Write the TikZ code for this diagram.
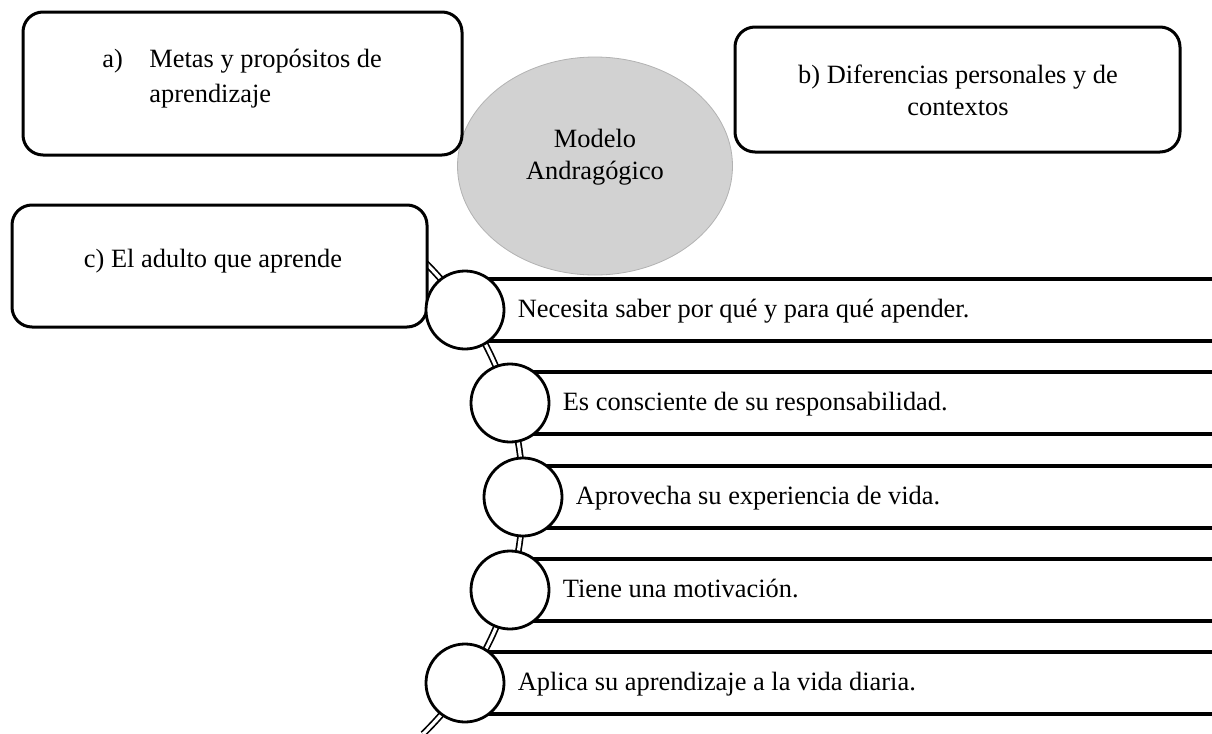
\documentclass[tikz,border=0pt]{standalone}
\usepackage{fontspec}
\setmainfont{Liberation Serif}
\usetikzlibrary{positioning,shapes.geometric}

\tikzset{
  roundbox/.style={draw, line width=1.5pt, rounded corners=10pt, fill=white},
  bullet/.style={circle, draw, line width=1.4pt, fill=white, minimum size=39pt, inner sep=0pt},
  bandline/.style={line width=2pt},
  spine/.style={draw, line width=0.85pt, double=white, double distance=1.6pt},
  txt/.style={inner sep=0pt, anchor=base, font=\fontsize{13.2}{16}\selectfont},
}

\begin{document}
\begin{tikzpicture}[x=0.5pt,y=-0.5pt]

    % Page frame
    \useasboundingbox (0,0) rectangle (1212,734);

    % Central ellipse
    \node[ellipse, draw=gray!60, fill=gray!35, minimum width=137.5pt, minimum height=109pt] (modelo) at (595,166) {};
    \node[txt] (modelo1) at (595,147) {Modelo};
    \node[txt] (modelo2) at (595,179) {Andragógico};

    % Top boxes
    \node[roundbox, minimum width=219.5pt, minimum height=71.5pt] (boxa) at (242.5,83.5) {};
    \node[txt, anchor=base west] (labela) at (102,67) {a)};
    \node[txt, anchor=base west] (texta1) at (149,67) {Metas y propósitos de};
    \node[txt, anchor=base west] (texta2) at (149,102) {aprendizaje};

    \node[roundbox, minimum width=222.5pt, minimum height=62.5pt] (boxb) at (957.5,89.5) {};
    \node[txt] (textb1) at (958,83) {b) Diferencias personales y de};
    \node[txt] (textb2) at (958,115) {contextos};

    % Define the list items (x, y of each circle and its text)
    \def\itemList{465/310/Necesita saber por qué y para qué apender.,
                  510/403/Es consciente de su responsabilidad.,
                  523/497/Aprovecha su experiencia de vida.,
                  510/590/Tiene una motivación.,
                  465/683/Aplica su aprendizaje a la vida diaria.}

    % Band lines of each item
    \foreach \cx/\cy/\txt in \itemList {
        \draw[bandline] (\cx,{\cy-31}) -- (1212,{\cy-31});
        \draw[bandline] (\cx,{\cy+31}) -- (1212,{\cy+31});
    }

    % Curved spine through the circles
    \coordinate (arctop) at (412,250);
    \draw[spine] (arctop) arc[start angle=48.3, end angle=-45.7, radius=165.5pt]
        coordinate (arcbottom);

    % Box c over the start of the spine
    \node[roundbox, minimum width=207.5pt, minimum height=61pt] (boxc) at (219.5,266) {};
    \node[txt] (textc) at (213,267) {c) El adulto que aprende};

    % Circles and texts
    \foreach \cx/\cy/\txt [count=\i from 1] in \itemList {
        \node[bullet] (circ\i) at (\cx,\cy) {};
        \node[txt, anchor=base west] (item\i) at ([xshift=6pt]circ\i.east |- 0,{\cy+7}) {\txt};
    }

\end{tikzpicture}
\end{document}
